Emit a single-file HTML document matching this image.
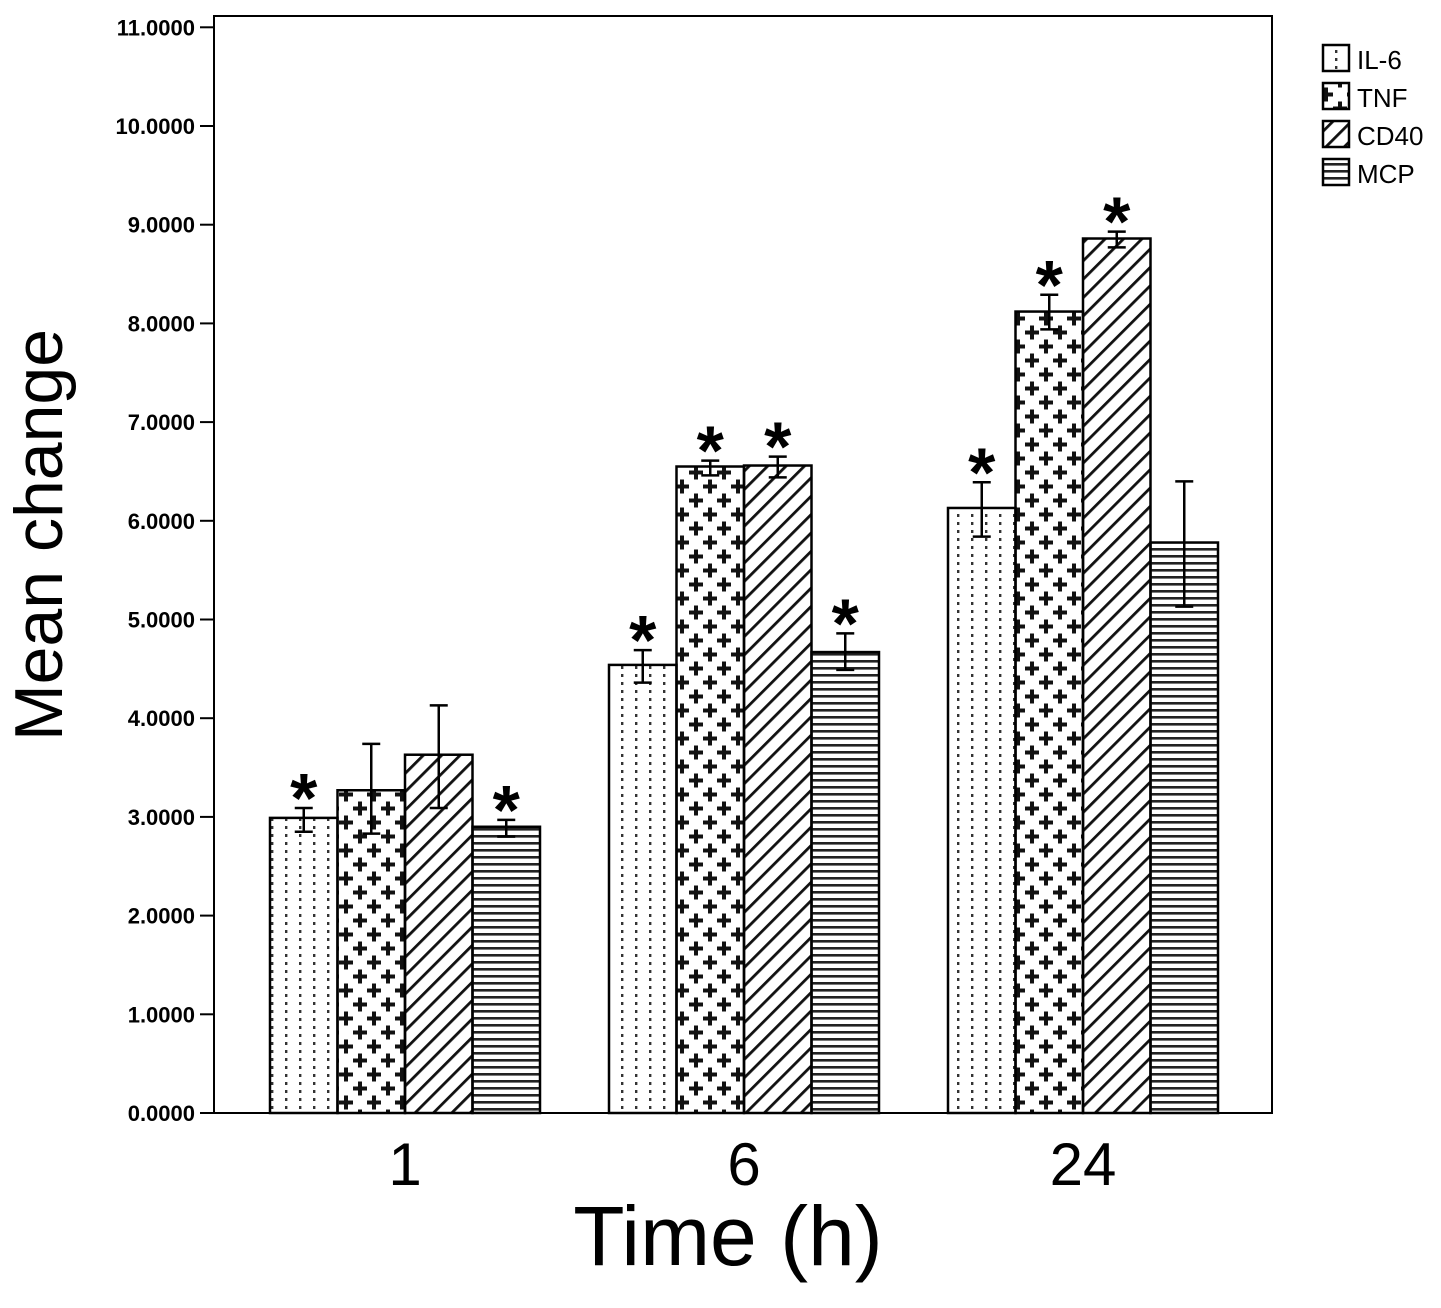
<!DOCTYPE html>
<html><head><meta charset="utf-8"><style>
body{margin:0;background:#fff}
svg text{font-family:"Liberation Sans",Arial,sans-serif;fill:#000}
</style></head><body>
<svg id="c" width="1441" height="1303" viewBox="0 0 1441 1303" xmlns="http://www.w3.org/2000/svg">
<defs>
<pattern id="p-dots" patternUnits="userSpaceOnUse" width="14" height="8"><rect x="5" y="2" width="2.4" height="3" fill="#333"/></pattern>
<pattern id="p-plus" patternUnits="userSpaceOnUse" width="28" height="28">
<rect x="3" y="8.5" width="14" height="4" fill="#111"/><rect x="8" y="3.5" width="4" height="14" fill="#111"/>
<rect x="17" y="22.5" width="14" height="4" fill="#111"/><rect x="22" y="17.5" width="4" height="14" fill="#111"/>
<rect x="-11" y="22.5" width="14" height="4" fill="#111"/><rect x="-6" y="17.5" width="4" height="14" fill="#111"/>
<rect x="17" y="-5.5" width="14" height="4" fill="#111"/><rect x="22" y="-10.5" width="4" height="14" fill="#111"/>
<rect x="-11" y="-5.5" width="14" height="4" fill="#111"/><rect x="-6" y="-10.5" width="4" height="14" fill="#111"/></pattern>
<pattern id="p-diag" patternUnits="userSpaceOnUse" width="13" height="13" patternTransform="rotate(45)"><rect x="0" y="0" width="2.8" height="13" fill="#111"/></pattern>
<pattern id="p-horiz" patternUnits="userSpaceOnUse" width="10" height="7"><rect x="0" y="2" width="10" height="2.6" fill="#222"/></pattern>
</defs>
<g id="g"></g>
</svg>
<script>
const categories=["1","6","24"];
const seriesNames=["IL-6","TNF","CD40","MCP"];
const il6=[2.99,4.54,6.13];
const tnf=[3.27,6.55,8.12];
const cd40=[3.63,6.56,8.86];
const mcp=[2.90,4.67,5.78];
const il6Hi=[3.09,4.69,6.39], il6Lo=[2.85,4.36,5.84];
const tnfHi=[3.74,6.61,8.29], tnfLo=[2.83,6.46,7.94];
const cd40Hi=[4.13,6.65,8.93], cd40Lo=[3.09,6.44,8.77];
const mcpHi=[2.97,4.86,6.40], mcpLo=[2.80,4.49,5.13];
const il6Sig=[1,1,1], tnfSig=[0,1,1], cd40Sig=[0,1,1], mcpSig=[1,1,0];
const yTicks=[0,1,2,3,4,5,6,7,8,9,10,11];

const NS="http://www.w3.org/2000/svg";
const g=document.getElementById('g');
function el(t,a,txt){const e=document.createElementNS(NS,t);for(const k in a)e.setAttribute(k,a[k]);if(txt!=null)e.textContent=txt;g.appendChild(e);return e;}
const y0=1113, py=98.7;
const y=v=>y0-v*py;
const xc=i=>405+339*i;
const bw=67.5;
const series=[[il6,il6Hi,il6Lo,il6Sig,'p-dots'],[tnf,tnfHi,tnfLo,tnfSig,'p-plus'],[cd40,cd40Hi,cd40Lo,cd40Sig,'p-diag'],[mcp,mcpHi,mcpLo,mcpSig,'p-horiz']];

let fr=el('rect',{x:214,y:16,width:1058,height:1097,fill:'none',stroke:'#000','stroke-width':2});



yTicks.forEach(v=>{
 let t=el('line',{x1:200,x2:214,y1:y(v),y2:y(v),stroke:'#000','stroke-width':2});
 
 
 let l=el('text',{x:195,y:y(v)+8,'text-anchor':'end','font-size':22,'font-weight':'bold'},v.toFixed(4));
 
 
});

categories.forEach((c,i)=>{
 series.forEach((s,j)=>{
  const x=xc(i)-2*bw+j*bw;
  const v=s[0][i];
  let r=el('rect',{x:x,y:y(v),width:bw,height:y0-y(v),fill:'url(#'+s[4]+')',stroke:'#000','stroke-width':2.5});
  
  
  const cx=x+bw/2, hi=y(s[1][i]), lo=y(s[2][i]);
  let e=el('path',{d:`M${cx} ${hi}V${lo}M${cx-9} ${hi}H${cx+9}M${cx-9} ${lo}H${cx+9}`,stroke:'#000','stroke-width':2.5,fill:'none'});
  
  
  if(s[3][i]){
   let st=el('text',{x:cx,y:hi+14,'text-anchor':'middle','font-size':70,'font-weight':'bold'},'*');
   
   
  }
 });
 let xl=el('text',{x:xc(i),y:1185,'text-anchor':'middle','font-size':60},c);
 
 
});

let xt=el('text',{x:728,y:1265,'text-anchor':'middle','font-size':84},'Time (h)');


let yt=el('text',{x:0,y:0,'text-anchor':'middle','font-size':68,transform:'translate(62,535) rotate(-90)'},'Mean change');



seriesNames.forEach((n,j)=>{
 const ly=45+j*38;
 let b=el('rect',{x:1323,y:ly,width:26,height:26,fill:'url(#'+series[j][4]+')',stroke:'#000','stroke-width':2.5});
 
 
 let t=el('text',{x:1357,y:ly+24,'font-size':26},n);
 
 
});
</script>
</body></html>
